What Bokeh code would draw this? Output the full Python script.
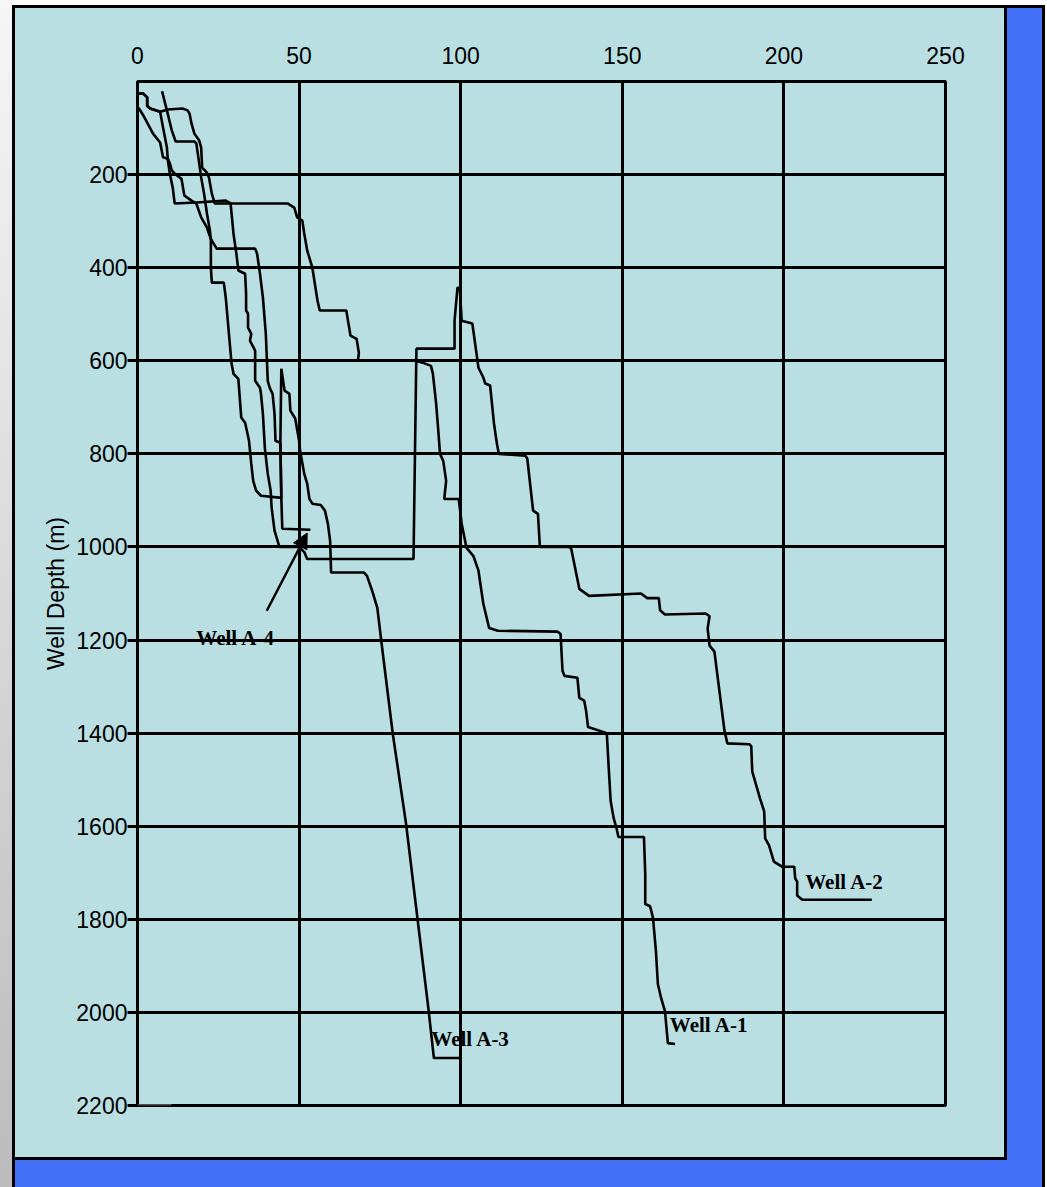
from bokeh.plotting import figure
from bokeh.models import Range1d, FixedTicker, Arrow, NormalHead
from bokeh.core.properties import value
from bokeh.embed import file_html
from bokeh.resources import INLINE

# ---------------- data (x value, well depth in m) ----------------
x_ticks = [0, 50, 100, 150, 200, 250]
depth_ticks = [200, 400, 600, 800, 1000, 1200, 1400, 1600, 1800, 2000, 2200]

well_a1 = [(0.3, 26), (1.8, 26), (3.0, 34), (3.0, 52), (3.9, 58), (7.0, 65), (9.4, 60), (13.9, 58),
           (15.5, 62), (16.1, 69), (16.7, 90), (17.6, 112), (19.1, 127), (19.7, 142), (20.0, 185),
           (21.5, 196), (22.1, 206), (23.0, 241), (23.9, 262), (46.4, 262), (48.5, 271), (49.4, 292),
           (51.0, 299), (51.6, 327), (52.5, 363), (54.1, 400), (55.7, 471), (56.4, 492), (64.6, 492),
           (65.9, 546), (67.8, 553), (68.5, 583), (68.2, 600), (86.0, 600), (88.2, 604), (90.8, 611),
           (91.4, 628), (92.4, 692), (93.0, 744), (93.6, 800), (94.6, 815), (95.5, 858), (94.9, 897),
           (99.4, 897), (100.3, 950), (101.8, 1002), (103.9, 1019), (105.5, 1051), (106.4, 1094),
           (107.0, 1122), (108.8, 1174), (111.5, 1180), (130.0, 1182), (130.9, 1187), (131.5, 1266),
           (132.1, 1277), (136.1, 1281), (136.7, 1324), (138.2, 1330), (138.8, 1352), (139.4, 1387),
           (145.2, 1400), (145.8, 1475), (146.4, 1546), (147.3, 1582), (148.2, 1604), (148.8, 1623),
           (156.7, 1623), (157.1, 1703), (157.1, 1767), (158.6, 1772), (159.5, 1797), (160.4, 1868),
           (161.0, 1939), (162.0, 1969), (163.2, 1997), (164.1, 2066), (166.3, 2068)]

well_a2 = [(0.3, 26), (1.8, 26), (3.0, 34), (3.0, 52), (3.9, 58), (7.0, 65), (7.9, 99), (9.1, 142),
           (9.4, 170), (10.0, 198), (10.9, 228), (11.5, 262), (18.2, 260), (27.3, 256), (28.8, 262),
           (29.7, 327), (30.6, 370), (31.2, 406), (33.3, 413), (33.6, 456), (33.6, 492), (34.2, 499),
           (34.2, 529), (35.2, 542), (34.8, 557), (36.4, 578), (36.4, 643), (37.9, 658), (38.2, 671),
           (38.8, 714), (39.4, 787), (40.3, 843), (41.2, 879), (41.5, 916), (42.4, 965), (43.9, 1000),
           (50.0, 1000), (51.6, 1011), (52.5, 1026), (85.4, 1026), (86.3, 574), (98.1, 574),
           (98.1, 514), (99.0, 443), (99.7, 443), (100.3, 514), (103.6, 520), (105.5, 615),
           (107.0, 636), (107.6, 649), (109.1, 653), (110.3, 735), (111.2, 778), (111.8, 800),
           (120.0, 804), (120.6, 810), (122.4, 922), (123.9, 929), (124.5, 1000), (133.6, 1000),
           (134.2, 1004), (136.7, 1090), (139.7, 1105), (155.8, 1100), (157.7, 1110), (161.3, 1110),
           (161.7, 1136), (163.2, 1145), (175.8, 1143), (177.0, 1149), (176.4, 1175), (177.0, 1212),
           (178.5, 1225), (181.6, 1394), (182.5, 1422), (189.3, 1424), (189.9, 1428), (190.2, 1482),
           (192.6, 1540), (193.9, 1568), (194.2, 1626), (195.4, 1641), (196.9, 1676), (199.4, 1687),
           (203.2, 1687), (203.5, 1712), (204.1, 1719), (204.1, 1749), (205.7, 1758), (227.2, 1758)]

well_a3 = [(7.6, 21), (9.1, 62), (10.6, 105), (11.8, 129), (17.6, 129), (18.2, 133), (19.1, 176),
           (19.7, 206), (20.6, 241), (21.5, 284), (22.4, 320), (22.7, 342), (22.7, 400), (23.0, 432),
           (26.7, 432), (27.3, 464), (28.2, 535), (29.1, 606), (29.7, 628), (31.2, 639), (32.1, 722),
           (33.3, 733), (34.5, 772), (35.2, 821), (35.8, 858), (36.7, 879), (38.2, 890), (43.9, 894),
           (44.5, 894), (44.2, 776), (44.5, 617), (45.5, 664), (47.0, 671), (47.3, 707), (48.8, 724),
           (50.0, 772), (50.3, 793), (51.6, 843), (52.5, 864), (53.2, 897), (54.1, 907), (56.7, 910),
           (58.0, 922), (58.9, 950), (59.6, 987), (59.9, 1055), (70.1, 1055), (71.0, 1062),
           (72.6, 1094), (74.2, 1131), (75.8, 1223), (79.0, 1402), (83.1, 1595), (86.6, 1797),
           (90.1, 1997), (91.7, 2098), (100.0, 2098)]

well_a4 = [(0.3, 56), (1.8, 73), (4.8, 112), (7.0, 131), (7.9, 163), (9.4, 166), (10.0, 176),
           (10.6, 191), (11.5, 198), (13.6, 209), (14.5, 245), (16.7, 256), (18.2, 262), (19.7, 292),
           (21.5, 314), (22.1, 327), (23.0, 342), (24.5, 359), (36.4, 359), (37.0, 370), (37.9, 413),
           (38.8, 464), (39.7, 542), (40.3, 643), (40.9, 658), (41.8, 671), (42.4, 714), (42.7, 772),
           (44.2, 776), (44.5, 894), (44.8, 961), (53.5, 963)]

stub = [(0.0, 2200), (10.5, 2200)]

well_names = ["Well A-1", "Well A-2", "Well A-3", "Well A-4"]

# ---------------- layout constants (canvas pixels) ----------------
W, H = 1047, 1187
FL, FR, FT, FB = 137, 945, 81, 1105

PANEL = "#B9DFE3"
BLUE = "#4270F7"

p = figure(width=W, height=H, output_backend="svg", toolbar_location=None,
           x_range=Range1d(0, 250), y_range=Range1d(2200, 0),
           x_axis_location="above", y_axis_location="left",
           min_border_left=FL, min_border_right=W - FR,
           min_border_top=FT, min_border_bottom=H - FB)

p.background_fill_color = PANEL
p.border_fill_alpha = 0
p.outline_line_color = "black"
p.outline_line_width = 3

# page frame: light panel with black edge, blue "shadow" at right and bottom, grey strip at left
p.styles = {
    "background-color": "#ffffff",
    "background-image": ", ".join([
        "linear-gradient(%s, %s)" % (PANEL, PANEL),
        "linear-gradient(#000000, #000000)",
        "linear-gradient(%s, %s)" % (BLUE, BLUE),
        "linear-gradient(#000000, #000000)",
        "linear-gradient(to bottom, #f6f6f6, #bcbcbc)",
    ]),
    "background-position": "15px 8px, 12px 5px, 15px 8px, 12px 5px, 0px 0px",
    "background-size": "989px 1149px, 995px 1155px, 1027px 1200px, 1033px 1210px, 12px 1187px",
    "background-repeat": "no-repeat",
}

# axes & grid
p.xaxis.ticker = FixedTicker(ticks=x_ticks)
p.yaxis.ticker = FixedTicker(ticks=depth_ticks)
p.xgrid.ticker = FixedTicker(ticks=x_ticks)
p.ygrid.ticker = FixedTicker(ticks=depth_ticks)
for g in (p.xgrid, p.ygrid):
    g.grid_line_color = "black"
    g.grid_line_width = 3

p.xaxis.axis_line_color = None
p.xaxis.major_tick_out = 0
p.xaxis.major_tick_in = 0
p.xaxis.minor_tick_out = 0
p.xaxis.minor_tick_in = 0
p.xaxis.major_label_standoff = 18
p.xaxis.major_label_text_font = "Liberation Sans"
p.xaxis.major_label_text_font_size = "23px"
p.xaxis.major_label_text_color = "black"

p.yaxis.axis_line_color = None
p.yaxis.major_tick_out = 10
p.yaxis.major_tick_in = 0
p.yaxis.major_tick_line_width = 3
p.yaxis.major_tick_line_color = "black"
p.yaxis.minor_tick_out = 0
p.yaxis.minor_tick_in = 0
p.yaxis.major_label_standoff = 0
p.yaxis.major_label_text_font = "Liberation Sans"
p.yaxis.major_label_text_font_size = "23px"
p.yaxis.major_label_text_color = "black"
p.yaxis.axis_label = "Well Depth (m)"
p.yaxis.axis_label_text_font = "Liberation Sans"
p.yaxis.axis_label_text_font_style = "normal"
p.yaxis.axis_label_text_font_size = "23px"
p.yaxis.axis_label_text_color = "black"
p.yaxis.axis_label_standoff = 4

# wells
for well in (well_a1, well_a2, well_a3, well_a4):
    xs = [a for a, b in well]
    ds = [b for a, b in well]
    p.line(xs, ds, line_color="black", line_width=2.6)
p.line([a for a, b in stub], [b for a, b in stub], line_color="#505050", line_width=3)

# labels
p.text(x=[164.7, 206.6, 90.9, 18.2], y=[2026, 1720, 2057, 1195], text=well_names,
       text_font=value("Liberation Serif"), text_font_style="bold", text_font_size="21px",
       text_align="left", text_baseline="alphabetic", text_color="black")

p.add_layout(Arrow(end=NormalHead(size=15, fill_color="black", line_color="black"),
                   x_start=40.0, y_start=1137, x_end=52.5, y_end=970,
                   line_color="black", line_width=2.5))

open("out.html", "w").write(file_html(p, INLINE))
